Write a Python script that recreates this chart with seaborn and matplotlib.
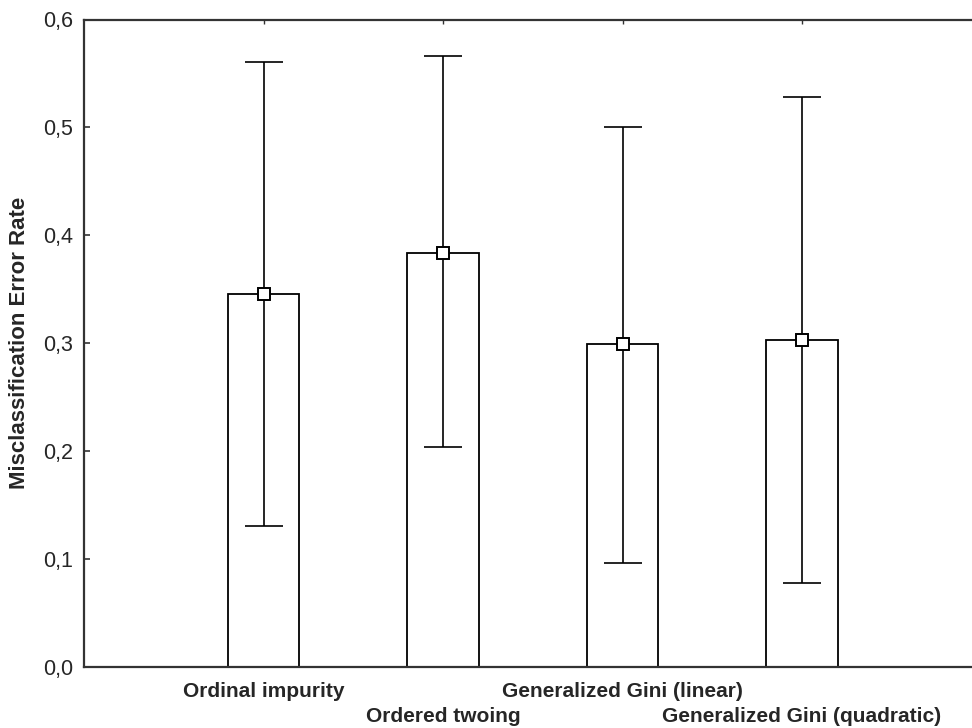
import matplotlib
matplotlib.use("Agg")
import matplotlib.pyplot as plt
import seaborn as sns
import pandas as pd
from matplotlib.ticker import FixedLocator, FuncFormatter

# Mean misclassification error per splitting criterion with interval bounds
criteria = [
    "Ordinal impurity",
    "Ordered twoing",
    "Generalized Gini (linear)",
    "Generalized Gini (quadratic)",
]
mean_error = [0.346, 0.384, 0.299, 0.303]
lower_bound = [0.131, 0.204, 0.096, 0.078]
upper_bound = [0.561, 0.566, 0.500, 0.528]
y_ticks = [0.0, 0.1, 0.2, 0.3, 0.4, 0.5, 0.6]

sns.set_style("white")
plt.rcParams["font.family"] = ["Liberation Sans", "DejaVu Sans"]

df = pd.DataFrame({"criterion": criteria, "error": mean_error})

fig = plt.figure(figsize=(9.72, 7.28), dpi=100)
ax = fig.add_axes([84 / 972, 1 - 667 / 728, 897.5 / 972, (667 - 19.5) / 728])

sns.barplot(data=df, x="criterion", y="error", order=criteria, color="white",
            edgecolor="black", linewidth=1.3, width=0.4, errorbar=None, ax=ax,
            zorder=2)

xs = list(range(len(criteria)))
yerr = [[m - lo for m, lo in zip(mean_error, lower_bound)],
        [hi - m for m, hi in zip(mean_error, upper_bound)]]
ax.errorbar(xs, mean_error, yerr=yerr, fmt="none", ecolor="black",
            elinewidth=1.2, capsize=13.4, capthick=1.2, zorder=3)
ax.plot(xs, mean_error, linestyle="none", marker="s", markersize=8,
        markerfacecolor="white", markeredgecolor="black",
        markeredgewidth=1.4, zorder=4)

ax.set_xlim(-1, 4)
ax.set_ylim(0, 0.6)
ax.yaxis.set_major_locator(FixedLocator(y_ticks))
ax.yaxis.set_major_formatter(FuncFormatter(lambda v, p: f"{v:.1f}".replace(".", ",")))

ax.set_xlabel("")
ax.set_ylabel("Misclassification Error Rate", fontsize=16, fontweight="bold",
              labelpad=9)

for side in ["left", "top", "bottom"]:
    ax.spines[side].set_visible(True)
    ax.spines[side].set_color("#333333")
    ax.spines[side].set_linewidth(1.6)
ax.spines["right"].set_visible(False)

ax.tick_params(axis="y", direction="in", length=4, width=1.2, color="#333333",
               labelsize=15.5, pad=8, left=True)
ax.tick_params(axis="x", direction="in", length=3, width=1.0, color="#333333",
               labelsize=15, top=True, bottom=True)

ax.set_xticks(xs)
ax.set_xticklabels(criteria, fontweight="bold")
for i, tick in enumerate(ax.xaxis.get_major_ticks()):
    tick.set_pad(10.5 if i % 2 == 0 else 29)

fig.savefig("out.png", dpi=100)
